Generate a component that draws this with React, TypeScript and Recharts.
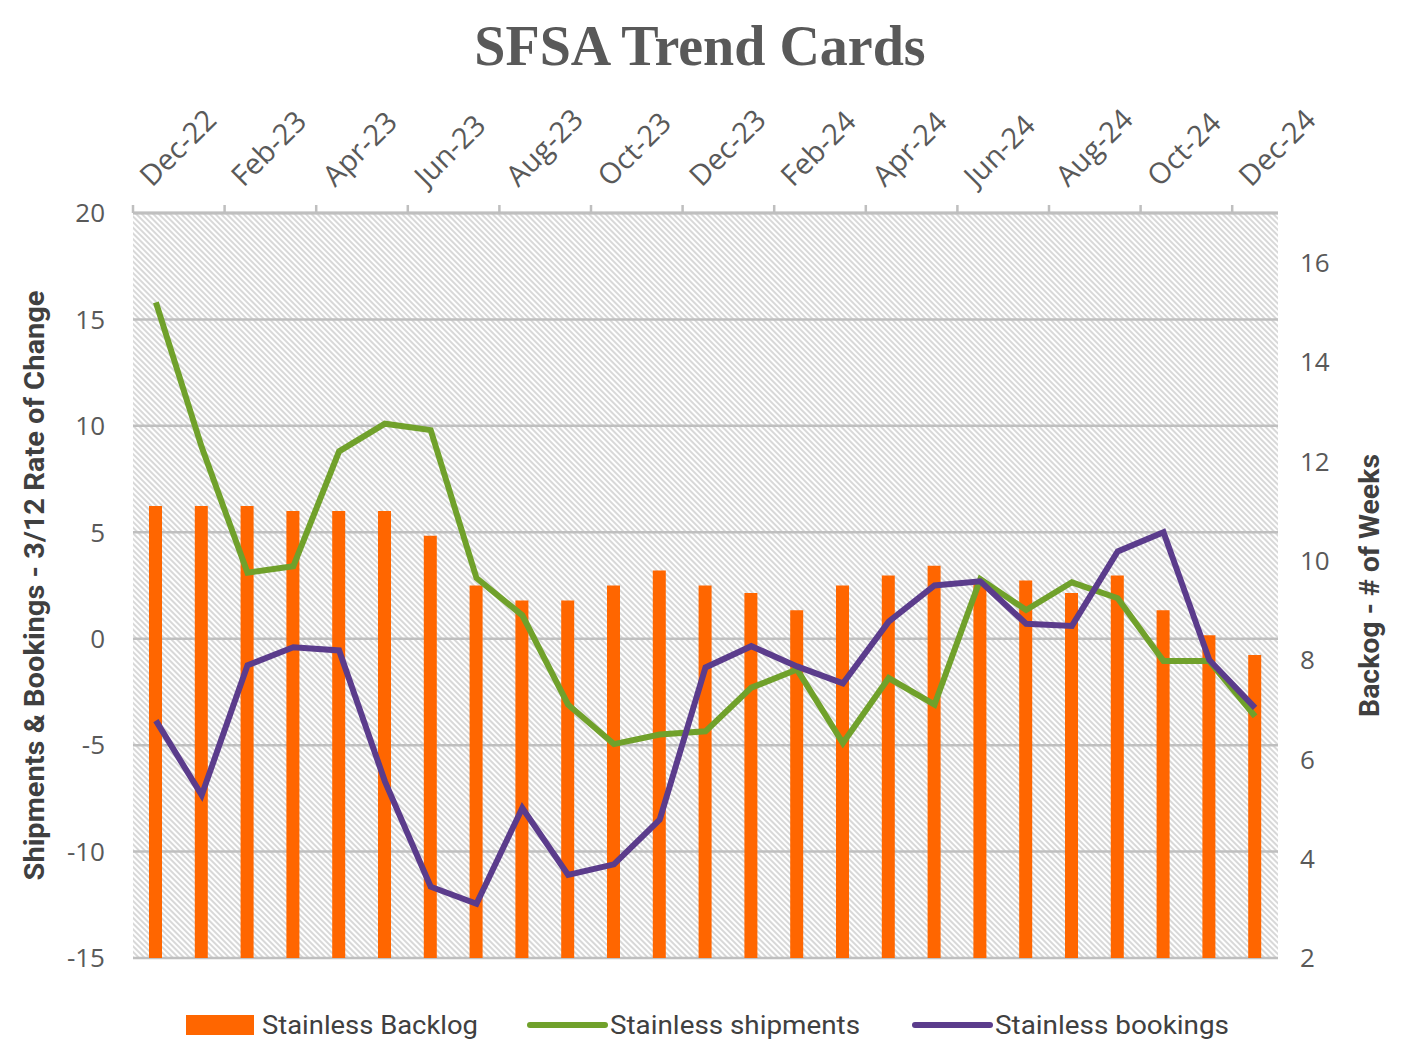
import {
  ComposedChart,
  Bar,
  Line,
  XAxis,
  YAxis,
  CartesianGrid,
  Legend,
} from 'recharts'

const MONTHS = [
  'Dec-22', 'Jan-23', 'Feb-23', 'Mar-23', 'Apr-23', 'May-23', 'Jun-23',
  'Jul-23', 'Aug-23', 'Sep-23', 'Oct-23', 'Nov-23', 'Dec-23', 'Jan-24',
  'Feb-24', 'Mar-24', 'Apr-24', 'May-24', 'Jun-24', 'Jul-24', 'Aug-24',
  'Sep-24', 'Oct-24', 'Nov-24', 'Dec-24',
]

// backlog in weeks (right axis)
const BACKLOG = [
  11.1, 11.1, 11.1, 11.0, 11.0, 11.0, 10.5, 9.5, 9.2, 9.2, 9.5, 9.8, 9.5,
  9.35, 9.0, 9.5, 9.7, 9.9, 9.6, 9.6, 9.35, 9.7, 9.0, 8.5, 8.1,
]

// 3/12 rate of change (left axis)
const SHIPMENTS = [
  15.8, 9.0, 3.1, 3.4, 8.8, 10.1, 9.8, 2.85, 1.1, -3.1, -4.95, -4.5, -4.35,
  -2.3, -1.45, -4.9, -1.85, -3.1, 2.8, 1.35, 2.65, 1.9, -1.05, -1.05, -3.65,
]

const BOOKINGS = [
  -3.85, -7.35, -1.25, -0.4, -0.55, -6.7, -11.65, -12.45, -7.95, -11.1, -10.6,
  -8.5, -1.35, -0.35, -1.3, -2.1, 0.8, 2.5, 2.7, 0.7, 0.6, 4.1, 5.0, -1.0, -3.25,
]

const LEFT_TICKS = [-15, -10, -5, 0, 5, 10, 15, 20]
const RIGHT_TICKS = [2, 4, 6, 8, 10, 12, 14, 16]

const ORANGE = '#FF6600'
const GREEN = '#70A12B'
const PURPLE = '#5B3C8C'
const GRID = '#bfbfbf'
const TEXT = '#595959'

// legend order as in the original
const LEGEND_KEYS = ['backlog', 'shipments', 'bookings']
const LEGEND_X = [186, 530, 915]
const LEGEND_W = [216, 250, 234]

const data = MONTHS.map((month, i) => ({
  month,
  backlog: BACKLOG[i],
  shipments: SHIPMENTS[i],
  bookings: BOOKINGS[i],
}))

function TopTick(props: any) {
  const { x, y, payload } = props
  const half = payload?.offset ?? 22.9
  const axisY = y + 12
  const tx = x - 4
  const ty = axisY - 25
  return (
    <g>
      <line x1={x - half} x2={x - half} y1={axisY} y2={axisY - 8} stroke={GRID} strokeWidth={2.5} />
      <text
        x={tx}
        y={ty}
        transform={`rotate(-45 ${tx} ${ty})`}
        textAnchor="start"
        fill={TEXT}
        fontSize={29}
        fontFamily="'Open Sans', sans-serif"
      >
        {payload.value}
      </text>
    </g>
  )
}

function LegendBox(props: any) {
  const items = props.payload ?? []
  return (
    <svg width={1411} height={50}>
      {LEGEND_KEYS.map((key, i) => {
        const item = items.find((p: any) => p.dataKey === key)
        if (!item) return null
        const x0 = LEGEND_X[i]
        const isBar = key === 'backlog'
        return (
          <g key={key}>
            {isBar ? (
              <rect x={x0} y={15} width={68} height={20} fill={item.color} />
            ) : (
              <line x1={x0} x2={x0 + 75} y1={25} y2={25} stroke={item.color} strokeWidth={6} strokeLinecap="round" />
            )}
            <text
              x={x0 + (isBar ? 76 : 80)}
              y={34}
              fontSize={26}
              fill="#404040"
              fontFamily="Roboto, sans-serif"
              textLength={LEGEND_W[i]}
              lengthAdjust="spacingAndGlyphs"
            >
              {item.value}
            </text>
          </g>
        )
      })}
    </svg>
  )
}

export default function App() {
  return (
    <div style={{ position: 'absolute', left: 0, top: 0, width: 1411, height: 1063, background: '#fff' }}>
      <div
        style={{
          position: 'absolute',
          left: 0,
          top: 18,
          width: 1400,
          textAlign: 'center',
          fontFamily: "'Liberation Serif', serif",
          fontWeight: 'bold',
          fontSize: 56,
          lineHeight: 1,
          color: TEXT,
        }}
      >
        SFSA Trend Cards
      </div>
      <ComposedChart
        width={1411}
        height={1063}
        data={data}
        margin={{ top: 153, right: 53, bottom: 105, left: 53 }}
        style={{ position: 'absolute', left: 0, top: 0 }}
      >
        <defs>
          <pattern id="hatch" width="4" height="4" patternUnits="userSpaceOnUse" patternTransform="rotate(-45)">
            <rect width="4" height="4" fill="#ffffff" />
            <line x1="1" y1="0" x2="1" y2="4" stroke="#c4c4c4" strokeWidth="1.3" />
          </pattern>
        </defs>
        <CartesianGrid
          yAxisId="left"
          vertical={false}
          stroke={GRID}
          strokeWidth={2.5}
          fill="url(#hatch)"
          fillOpacity={1}
        />
        <XAxis
          dataKey="month"
          orientation="top"
          height={60}
          interval={1}
          tickSize={8}
          tickMargin={4}
          tickLine={false}
          axisLine={{ stroke: GRID, strokeWidth: 3 }}
          tick={<TopTick />}
        />
        <YAxis
          yAxisId="left"
          width={80}
          domain={[-15, 20]}
          ticks={LEFT_TICKS}
          axisLine={false}
          tickLine={false}
          tickSize={0}
          tickMargin={28}
          tick={{ fill: TEXT, fontSize: 26, fontFamily: "'Open Sans', sans-serif" }}
          label={{
            content: (p: any) => {
              const vb = p.viewBox
              const cx = vb.x - 18
              const cy = vb.y + vb.height / 2
              return (
                <text
                  x={cx}
                  y={cy}
                  transform={`rotate(-90 ${cx} ${cy})`}
                  textAnchor="middle"
                  dominantBaseline="central"
                  fontSize={27}
                  fontWeight="bold"
                  fill="#404040"
                  fontFamily="Roboto, sans-serif"
                  textLength={590}
                  lengthAdjust="spacingAndGlyphs"
                >
                  Shipments &amp; Bookings - 3/12  Rate of Change
                </text>
              )
            },
          }}
        />
        <YAxis
          yAxisId="right"
          orientation="right"
          width={80}
          domain={[2, 17]}
          ticks={RIGHT_TICKS}
          axisLine={false}
          tickLine={false}
          tickSize={0}
          tickMargin={22}
          tick={{ fill: TEXT, fontSize: 26, fontFamily: "'Open Sans', sans-serif" }}
          label={{
            content: (p: any) => {
              const vb = p.viewBox
              const cx = vb.x + 92
              const cy = vb.y + vb.height / 2
              return (
                <text
                  x={cx}
                  y={cy}
                  transform={`rotate(-90 ${cx} ${cy})`}
                  textAnchor="middle"
                  dominantBaseline="central"
                  fontSize={27}
                  fontWeight="bold"
                  fill="#404040"
                  fontFamily="Roboto, sans-serif"
                  textLength={263}
                  lengthAdjust="spacingAndGlyphs"
                >
                  Backog - # of Weeks
                </text>
              )
            },
          }}
        />
        <Bar
          yAxisId="right"
          dataKey="backlog"
          name="Stainless Backlog"
          fill={ORANGE}
          barSize={13}
          isAnimationActive={false}
        />
        <Line
          yAxisId="left"
          type="linear"
          dataKey="shipments"
          name="Stainless shipments"
          stroke={GREEN}
          strokeWidth={6}
          dot={false}
          activeDot={false}
          isAnimationActive={false}
        />
        <Line
          yAxisId="left"
          type="linear"
          dataKey="bookings"
          name="Stainless bookings"
          stroke={PURPLE}
          strokeWidth={6}
          dot={false}
          activeDot={false}
          isAnimationActive={false}
        />
        <Legend
          verticalAlign="middle"
          align="center"
          layout="horizontal"
          wrapperStyle={{ top: 1000, left: 0, width: 1411 }}
          content={<LegendBox />}
        />
      </ComposedChart>
    </div>
  )
}
